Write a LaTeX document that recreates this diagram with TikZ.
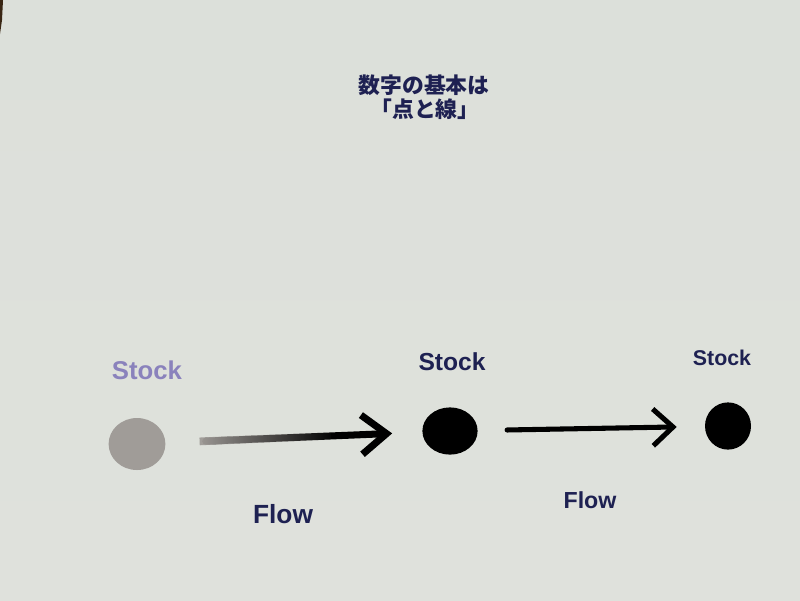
\documentclass[tikz,border=0pt]{standalone}
\usepackage{fontspec}
\setmainfont{Liberation Sans}
\newfontfamily\jpfont{Noto Sans CJK JP}
\usetikzlibrary{arrows.meta,fadings,calc,shapes.geometric}
\definecolor{navy}{HTML}{1E2152}
\definecolor{lavender}{HTML}{8A82BC}
\definecolor{dotgray}{HTML}{A09C98}
\definecolor{papertop}{HTML}{DCE0DA}
\definecolor{papermid}{HTML}{E4E7E1}
\definecolor{paperbot}{HTML}{DFE1DC}

\begin{document}
\begin{tikzpicture}[x=0.025cm,y=-0.025cm,
	title_text/.style={text=navy,font=\jpfont\bfseries\fontsize{15.5}{18}\selectfont,inner sep=0pt},
	stock_label/.style={text=navy,font=\bfseries,inner sep=0pt},
	flow_label/.style={text=navy,font=\bfseries,inner sep=0pt},
	stock_dot/.style={ellipse,fill=black,draw=none,inner sep=0pt},
	flow_arrow/.style={line width=#1,line cap=round}]

	\shade[top color=papertop,middle color=papermid,bottom color=paperbot] (0,0) rectangle (800,600);
	\fill[black!70!brown] (0,0) -- (3,0) -- (2,20) -- (0,34) -- cycle;
	\useasboundingbox (0,0) rectangle (800,600);

	\node[title_text] (title1) at (424,85) {数字の基本は};
	\node[title_text] (title2) at (425,109) {「点と線」};

	\node[stock_label,text=lavender,font=\bfseries\fontsize{18.3}{20}\selectfont] (stock1) at (147,370) {Stock};
	\node[stock_label,font=\bfseries\fontsize{17.5}{20}\selectfont] (stock2) at (452,362) {Stock};
	\node[stock_label,font=\bfseries\fontsize{15.2}{18}\selectfont] (stock3) at (722,358) {Stock};

	\node[stock_dot,fill=dotgray,minimum width=1.42cm,minimum height=1.3cm] (dot1) at (137,444) {};
	\node[stock_dot,minimum width=1.38cm,minimum height=1.18cm] (dot2) at (450,431) {};
	\node[stock_dot,minimum width=1.15cm,minimum height=1.18cm] (dot3) at (728,426) {};

	\draw[flow_arrow=5pt,-{Straight Barb[length=0.62cm,width=0.98cm]},shorten <=1.0cm,shorten >=0.75cm] (dot1) -- (dot2);
	\coordinate (fade1) at ($(dot1)!0.2!(dot2)$);
	\coordinate (fade2) at ($(dot1)!0.62!(dot2)$);
	\draw[dotgray,line width=5.5pt,path fading=east] (fade1) -- (fade2);
	\draw[flow_arrow=3.6pt,-{Straight Barb[length=0.5cm,width=0.92cm]},shorten <=0.73cm,shorten >=0.7cm] (dot2) -- (dot3);

	\node[flow_label,font=\bfseries\fontsize{18.7}{20}\selectfont] (flow1) at (283,514) {Flow};
	\node[flow_label,font=\bfseries\fontsize{16.5}{20}\selectfont] (flow2) at (590,500) {Flow};
\end{tikzpicture}
\end{document}
